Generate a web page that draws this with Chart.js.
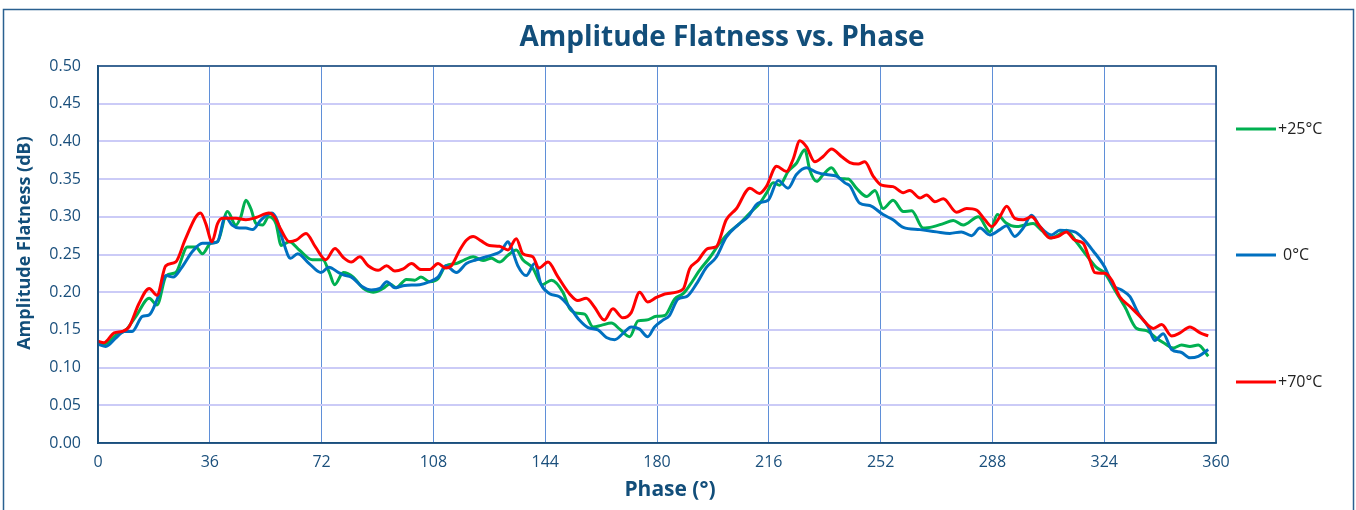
<!DOCTYPE html>
<html>
<head>
<meta charset="utf-8">
<script src="https://cdn.jsdelivr.net/npm/chart.js@4.4.1/dist/chart.umd.min.js"></script>
<style>
  html, body { margin: 0; padding: 0; background: #fff; }
  #wrap { width: 1356px; height: 510px; position: relative; }
</style>
</head>
<body>
<div id="wrap"><canvas id="c" width="1356" height="510"></canvas></div>
<script>
// ---- DATA ----
const chartTitle = 'Amplitude Flatness vs. Phase';
const xTitle = 'Phase (°)';
const yTitle = 'Amplitude Flatness (dB)';
const seriesNames = ['+25°C', '0°C', '+70°C'];

const greenX = [0,2.5,5.7,9,12.2,16.5,19,22,25,28.8,31.5,33.6,36.3,38.5,41.7,44.4,46,47.6,49.2,50.9,53,55,57.3,59,61.6,64.8,69,72.4,74.5,76.2,79,82.2,85.4,88.6,91.8,94,96,99.3,102,104,106.8,109.5,112,115.4,118,120.8,124,126.7,129.3,132,134.7,136.8,140,143,146,149.7,151.9,154.5,156.7,159.4,162,165.3,168,171.2,173.9,176.6,179.8,182.5,185.7,188.4,190.5,193.7,197,200.2,203.4,206.6,209.9,213.1,215.2,217.4,219.5,222.2,224.9,227.6,229.2,231.4,233.5,236.2,238.9,241.6,244.2,247.5,250.2,252.8,256,259.3,262,265.7,269,272.2,275.4,278.6,283.5,287.2,289.6,292.3,295.7,298.4,301.1,303.8,307,309.2,311.8,315,318.3,321.5,324.2,327.4,330.6,334.4,337.6,340.8,343.5,346.2,348.9,351.6,354.3,357.5];
const greenY = [0.132,0.132,0.143,0.150,0.168,0.192,0.183,0.222,0.226,0.260,0.260,0.251,0.265,0.267,0.307,0.289,0.300,0.322,0.311,0.291,0.289,0.300,0.291,0.262,0.267,0.256,0.243,0.243,0.226,0.210,0.226,0.220,0.205,0.200,0.205,0.211,0.206,0.217,0.216,0.220,0.214,0.218,0.235,0.238,0.243,0.247,0.242,0.245,0.240,0.249,0.256,0.243,0.232,0.210,0.216,0.200,0.178,0.172,0.171,0.154,0.156,0.159,0.151,0.141,0.162,0.163,0.168,0.169,0.191,0.198,0.209,0.229,0.246,0.265,0.280,0.291,0.305,0.318,0.331,0.345,0.342,0.360,0.371,0.389,0.362,0.347,0.356,0.365,0.351,0.350,0.338,0.327,0.335,0.311,0.322,0.307,0.308,0.285,0.287,0.291,0.295,0.289,0.300,0.280,0.303,0.292,0.287,0.289,0.291,0.282,0.272,0.276,0.282,0.267,0.249,0.233,0.225,0.203,0.181,0.152,0.149,0.139,0.132,0.126,0.130,0.128,0.130,0.115];

const blueX = [0,2.5,5.7,8.4,11,14.3,16.5,19,22,24.2,27,30.4,33.6,36.3,38.5,41,43.2,45.5,47.6,49.8,52.5,56,57.6,59.5,62,64.3,68,71.8,74.3,77.5,79,81.6,84.9,88,90.8,93,95.6,98.8,103.6,106.8,109.5,112,115.4,118.6,121.8,125,128.2,129.9,132,133,135.2,137.9,140.6,142.7,145.4,148.6,151.9,155,157.8,161,163.7,166.4,169,171.7,174.4,177,179.2,181.9,184,186.8,189.5,192.7,195.9,199,202.3,206,209.3,212.5,215.8,219,222.2,224.9,228.1,231.4,234.6,237.8,240.5,242.1,245.3,248.5,252.8,256,259.3,264.7,270,274.3,278,281.3,284,287.2,290.4,292.5,295.2,297.9,300.6,303.3,307,309.7,314.5,317.2,320.4,324.2,326.9,329.6,332.3,335,338.2,340.3,343,345.7,348.9,351.6,354.3,357.5];
const blueY = [0.131,0.128,0.139,0.148,0.148,0.168,0.170,0.190,0.222,0.220,0.233,0.254,0.265,0.265,0.267,0.300,0.289,0.285,0.285,0.283,0.296,0.305,0.296,0.269,0.245,0.251,0.238,0.226,0.233,0.226,0.223,0.220,0.208,0.203,0.205,0.214,0.206,0.209,0.210,0.214,0.220,0.235,0.226,0.238,0.243,0.247,0.251,0.255,0.267,0.260,0.235,0.222,0.238,0.210,0.198,0.194,0.180,0.163,0.153,0.150,0.140,0.137,0.145,0.154,0.151,0.141,0.154,0.163,0.169,0.191,0.194,0.211,0.233,0.246,0.273,0.289,0.300,0.318,0.322,0.348,0.338,0.356,0.365,0.359,0.356,0.354,0.345,0.341,0.318,0.315,0.303,0.296,0.286,0.283,0.280,0.278,0.280,0.275,0.285,0.276,0.283,0.288,0.274,0.285,0.302,0.287,0.276,0.282,0.280,0.271,0.255,0.233,0.209,0.203,0.194,0.172,0.154,0.136,0.145,0.124,0.120,0.113,0.115,0.124];

const redX = [0,1.9,5.2,7.8,10,13.2,16.5,19,21.8,25,28,31.5,33,34.7,36.7,38.5,40,44.4,47.6,50.9,55,56.8,58.9,61.6,63.8,67,70,73.3,76.3,79,81.6,84.3,87,90.2,92.9,95.6,98.3,101,104,106.8,109.5,112,113.8,116.5,118.6,120.8,123.4,126,129.3,132,134.7,136.8,140,142,144.9,148,151.8,154.5,157.2,159.9,163,165.8,169,171.7,174.4,177,179.8,183,188.4,190.5,193.2,196.4,199,202.3,205.6,209.9,213,215.2,218.5,221.7,223.8,226,228.1,230.8,233.5,236.2,239.4,242.1,244.8,246.9,249.6,252.3,256,259.3,261.4,264.7,266.8,269.5,272.2,276.5,279.7,282.9,285.6,287.8,290.4,292.6,295.2,297.9,300.6,303.3,306.5,309.2,311.8,314.5,317.2,319.4,321,324.2,326.4,329,332.3,335.5,339.8,342.5,345.7,348.4,351.6,354.9,357.5];
const redY = [0.135,0.133,0.146,0.148,0.154,0.185,0.205,0.196,0.235,0.240,0.269,0.300,0.305,0.291,0.267,0.291,0.298,0.298,0.296,0.299,0.305,0.300,0.283,0.267,0.269,0.278,0.260,0.243,0.258,0.246,0.240,0.247,0.235,0.229,0.235,0.228,0.231,0.238,0.230,0.230,0.238,0.232,0.235,0.256,0.269,0.274,0.268,0.262,0.261,0.256,0.271,0.251,0.247,0.232,0.240,0.221,0.198,0.189,0.192,0.180,0.163,0.178,0.166,0.173,0.200,0.187,0.193,0.198,0.204,0.231,0.242,0.258,0.260,0.296,0.311,0.338,0.331,0.340,0.367,0.360,0.376,0.401,0.393,0.373,0.380,0.390,0.380,0.372,0.370,0.373,0.354,0.342,0.340,0.332,0.335,0.325,0.329,0.320,0.324,0.306,0.311,0.309,0.296,0.287,0.300,0.314,0.298,0.296,0.300,0.287,0.272,0.274,0.280,0.269,0.265,0.242,0.226,0.225,0.216,0.194,0.181,0.168,0.152,0.157,0.142,0.146,0.154,0.146,0.142];

const xTicks = [0,36,72,108,144,180,216,252,288,324,360];
const yTicks = [0,0.05,0.10,0.15,0.20,0.25,0.30,0.35,0.40,0.45,0.50];

const colors = { green: '#00b050', blue: '#0070c0', red: '#ff0000' };
const navy = '#1a4f7c';
const FONT = '"Open Sans", "DejaVu Sans", sans-serif';

const toPts = (xs, ys) => xs.map((x, i) => ({ x: x, y: ys[i] }));

const deco = {
  id: 'deco',
  beforeDraw(chart) {
    const ctx = chart.ctx;
    ctx.save();
    ctx.fillStyle = '#fff';
    ctx.fillRect(0, 0, chart.width, chart.height);
    ctx.restore();
  },
  afterDraw(chart) {
    const ctx = chart.ctx, a = chart.chartArea;
    ctx.save();
    // plot border
    ctx.strokeStyle = navy;
    ctx.lineWidth = 1.6;
    ctx.strokeRect(a.left, a.top, a.right - a.left, a.bottom - a.top);
    // outer frame
    ctx.strokeStyle = '#2a6090';
    ctx.lineWidth = 1.5;
    ctx.strokeRect(3.5, 9.5, 1350, 560);
    // chart title
    ctx.fillStyle = '#124e7a';
    ctx.font = 'bold 28px ' + FONT;
    ctx.textAlign = 'center';
    ctx.textBaseline = 'middle';
    ctx.fillText(chartTitle, 722, 38);
    // axis titles
    ctx.font = 'bold 21px ' + FONT;
    ctx.fillText(xTitle, 670, 490);
    ctx.save();
    ctx.translate(25, 243);
    ctx.rotate(-Math.PI / 2);
    ctx.font = 'bold 18px ' + FONT;
    ctx.fillText(yTitle, 0, 0);
    ctx.restore();
    // legend
    const ly = [129, 255, 382];
    const lc = [colors.green, colors.blue, colors.red];
    const lx = [1278, 1283, 1278];
    ctx.font = '16px ' + FONT;
    ctx.textAlign = 'left';
    for (let i = 0; i < 3; i++) {
      ctx.strokeStyle = lc[i];
      ctx.lineWidth = 3;
      ctx.beginPath();
      ctx.moveTo(1236, ly[i]);
      ctx.lineTo(1276, ly[i]);
      ctx.stroke();
      ctx.fillStyle = '#222';
      ctx.fillText(seriesNames[i], lx[i], ly[i] + 0.5);
    }
    ctx.restore();
  }
};

new Chart(document.getElementById('c'), {
  type: 'line',
  data: {
    datasets: [
      { label: seriesNames[2], data: toPts(redX, redY), borderColor: colors.red, order: 1 },
      { label: seriesNames[1], data: toPts(blueX, blueY), borderColor: colors.blue, order: 2 },
      { label: seriesNames[0], data: toPts(greenX, greenY), borderColor: colors.green, order: 3 }
    ]
  },
  options: {
    responsive: false,
    animation: false,
    elements: {
      line: { borderWidth: 3, cubicInterpolationMode: 'monotone', fill: false },
      point: { radius: 0, hoverRadius: 0 }
    },
    layout: { padding: { left: 0, right: 140, top: 66, bottom: 0 } },
    plugins: {
      legend: { display: false },
      title: { display: false },
      tooltip: { enabled: false }
    },
    scales: {
      x: {
        type: 'linear', min: 0, max: 360,
        afterBuildTicks: (s) => { s.ticks = xTicks.map(v => ({ value: v })); },
        afterFit: (s) => { s.height = 67; },
        grid: { color: '#5f8fd8', lineWidth: 1, drawTicks: false },
        border: { display: true, color: navy, width: 1.6 },
        ticks: { color: navy, font: { family: FONT, size: 16 }, padding: 10, maxRotation: 0 },
        title: { display: false, text: xTitle }
      },
      y: {
        min: 0, max: 0.5,
        afterBuildTicks: (s) => { s.ticks = yTicks.map(v => ({ value: v })); },
        afterFit: (s) => { s.width = 98; },
        grid: { color: '#cbcbf7', lineWidth: 2, drawTicks: false },
        border: { display: true, color: navy, width: 1.6 },
        ticks: { color: navy, font: { family: FONT, size: 16 }, padding: 17, callback: (v) => Number(v).toFixed(2) },
        title: { display: false, text: yTitle }
      }
    }
  },
  plugins: [deco]
});
</script>
</body>
</html>
